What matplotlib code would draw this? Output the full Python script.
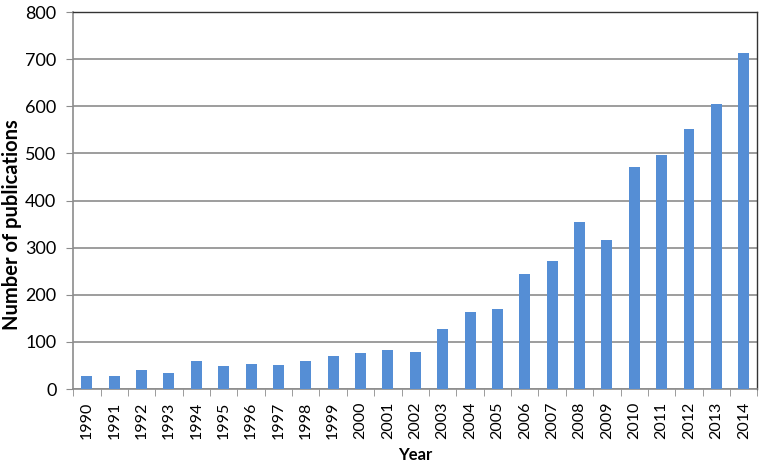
import matplotlib.pyplot as plt
import numpy as np

years = [str(y) for y in range(1990, 2015)]
counts = [28, 28, 40, 33, 59, 48, 54, 51, 60, 71, 77, 83, 78, 128,
          163, 170, 244, 272, 355, 316, 471, 497, 551, 606, 714]

plt.rcParams['font.family'] = ['Lato', 'DejaVu Sans']

fig = plt.figure(figsize=(7.62, 4.67), dpi=100)
ax = fig.add_axes([0.096, 0.167, 0.898, 0.807])

x = np.arange(len(years))
ax.bar(x, counts, width=0.4, color='#558ed5', zorder=3)

ax.set_xlim(-0.5, len(years) - 0.5)
ax.set_ylim(0, 800)
ax.set_yticks(range(0, 801, 100))
ax.yaxis.grid(True, color='#8c8c8c', linewidth=1.2, zorder=0)

ax.set_xticks(x)
ax.set_xticklabels(years, rotation=90, fontsize=11.5)
ax.set_xticks(np.arange(-0.5, len(years)), minor=True)
ax.tick_params(axis='x', which='major', length=0, pad=9)
ax.tick_params(axis='x', which='minor', length=5, color='#8c8c8c')
ax.tick_params(axis='y', length=5, color='#8c8c8c', labelsize=13, pad=7)

for side in ['left', 'bottom']:
    ax.spines[side].set_color('#8c8c8c')
    ax.spines[side].set_linewidth(1.2)
for side in ['top', 'right']:
    ax.spines[side].set_color('#333333')
    ax.spines[side].set_linewidth(1.0)

ax.set_xlabel('Year', fontsize=12, fontweight='bold')
ax.xaxis.set_label_coords(0.5, -0.155)
ax.set_ylabel('Number of publications', fontsize=14.5, fontweight='bold')
ax.yaxis.set_label_coords(-0.075, 0.435)

fig.savefig('out.png', dpi=100)
